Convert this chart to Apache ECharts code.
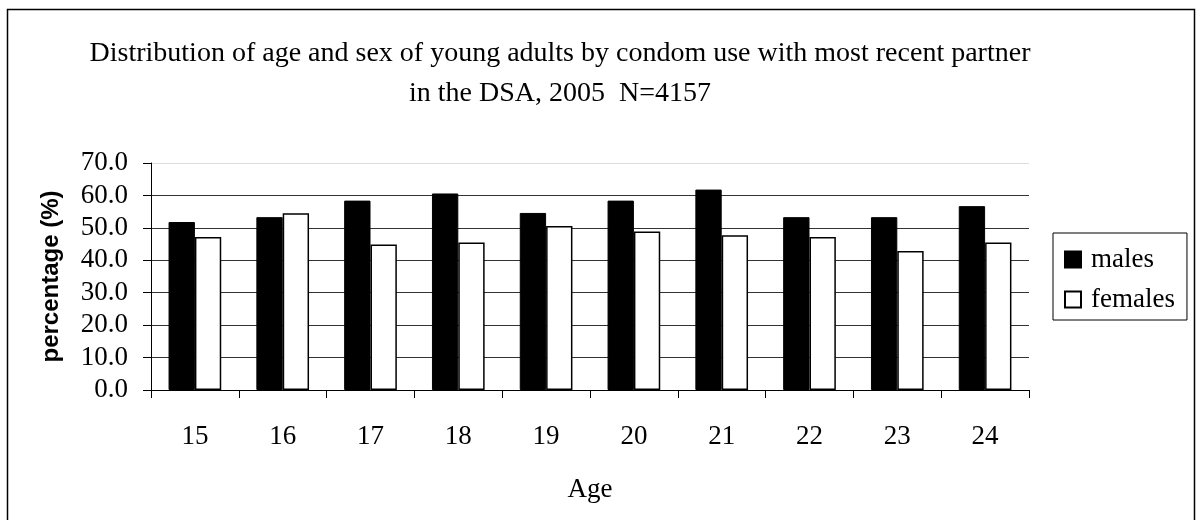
<!DOCTYPE html>
<html>
<head>
<meta charset="utf-8">
<style>
  html, body { margin: 0; padding: 0; background: #fff; }
  #chart { width: 1197px; height: 520px; }
</style>
<script src="https://cdn.jsdelivr.net/npm/echarts@6/dist/echarts.min.js"></script>
</head>
<body>
<div id="chart"></div>
<script>
// Ages of respondents (x categories)
const ages = ['15', '16', '17', '18', '19', '20', '21', '22', '23', '24'];
// Percentage reporting condom use with most recent partner
const males = [51.8, 53.3, 58.4, 60.6, 54.6, 58.4, 61.8, 53.3, 53.3, 56.7];
const females = [47.2, 54.5, 44.9, 45.5, 50.6, 48.9, 47.7, 47.2, 42.9, 45.5];

const serif = '"Liberation Serif", "Times New Roman", serif';
const sans = '"Liberation Sans", Arial, sans-serif';

const chart = echarts.init(document.getElementById('chart'));
chart.setOption({
  animation: false,
  backgroundColor: '#fff',
  graphic: [{
    type: 'rect',
    shape: { x: 7.5, y: 9.5, width: 1187, height: 520 },
    style: { fill: 'none', stroke: '#000', lineWidth: 1.5 },
    silent: true
  }],
  title: {
    text: 'Distribution of age and sex of young adults by condom use with most recent partner\nin the DSA, 2005  N=4157',
    left: 560,
    top: 34,
    textAlign: 'center',
    padding: 0,
    textStyle: {
      fontFamily: serif,
      fontSize: 28,
      fontWeight: 'normal',
      color: '#000',
      lineHeight: 40
    }
  },
  legend: {
    orient: 'vertical',
    left: 1053,
    top: 233,
    padding: [13, 12, 7, 11],
    itemGap: 13,
    itemWidth: 16,
    itemHeight: 16,
    borderColor: '#000',
    borderWidth: 1,
    icon: 'rect',
    textStyle: { fontFamily: serif, fontSize: 27, color: '#000', padding: [0, 0, 0, 5] },
    data: ['males', 'females']
  },
  grid: { left: 151, right: 168, top: 163, bottom: 130 },
  xAxis: {
    type: 'category',
    data: ages,
    name: 'Age',
    nameLocation: 'middle',
    nameGap: 86,
    nameTextStyle: { fontFamily: serif, fontSize: 27, color: '#000' },
    axisLine: { lineStyle: { color: '#000', width: 1 } },
    axisTick: { show: true, length: 8, lineStyle: { color: '#000' } },
    axisLabel: { fontFamily: serif, fontSize: 27, color: '#000', margin: 33 }
  },
  yAxis: {
    type: 'value',
    min: 0,
    max: 70,
    interval: 10,
    name: 'percentage (%)',
    nameLocation: 'middle',
    nameGap: 88,
    nameTextStyle: { fontFamily: sans, fontSize: 24, fontWeight: 'bold', color: '#000' },
    axisLine: { show: true, lineStyle: { color: '#000', width: 1 } },
    axisTick: { show: true, length: 8, lineStyle: { color: '#000' } },
    axisLabel: {
      fontFamily: serif, fontSize: 27, color: '#000', margin: 23,
      formatter: v => v.toFixed(1)
    },
    splitLine: {
      show: true,
      lineStyle: {
        color: ['#333', '#333', '#333', '#333', '#333', '#333', '#333', '#ddd'],
        width: 1
      }
    }
  },
  series: [
    {
      name: 'males',
      type: 'bar',
      data: males,
      barGap: '0%',
      barCategoryGap: '40%',
      itemStyle: { color: '#000', borderColor: '#000', borderWidth: 1 }
    },
    {
      name: 'females',
      type: 'bar',
      data: females,
      itemStyle: { color: '#fff', borderColor: '#000', borderWidth: 1.5 }
    }
  ]
});
</script>
</body>
</html>
